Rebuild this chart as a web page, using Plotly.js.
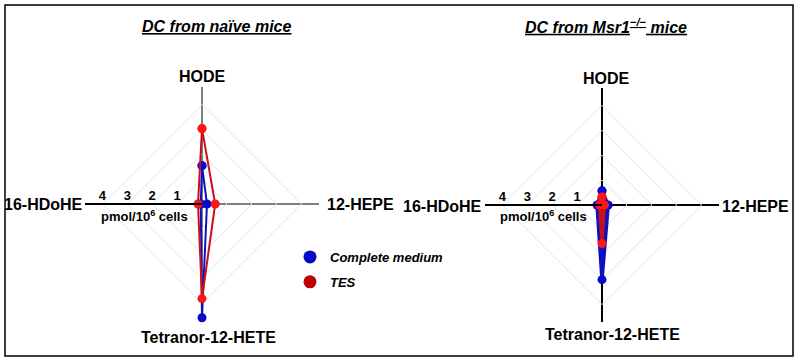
<!DOCTYPE html>
<html>
<head>
<meta charset="utf-8">
<script src="https://cdn.plot.ly/plotly-3.0.1.min.js"></script>
<style>html,body{margin:0;padding:0;background:#fff;}#chart{width:800px;height:362px;}</style>
</head>
<body>
<div id="chart"></div>
<script>
// Data
var categories = ["HODE", "12-HEPE", "Tetranor-12-HETE", "16-HDoHE"];
var naiveComplete = [1.54, 0.2, 4.57, 0.05];
var naiveTES = [3.03, 0.53, 3.8, 0.16];
var msr1Complete = [0.57, 0.25, 3.0, 0.2];
var msr1TES = [0.32, 0.1, 1.55, 0.1];
var radialTicks = [1, 2, 3, 4];
var radialTickLabels = ["1", "2", "3", "4"];
var seriesNames = ["Complete medium", "TES"];

function closeLoop(a) { return a.concat([a[0]]); }
var theta = closeLoop(categories);

var W = 800, H = 362;
function px(x) { return x / W; }
function py(y) { return 1 - y / H; }

var blueLine = "#1010c0", blueMarker = "#0a0acc";
var redLine = "#c8101a", redMarker = "#ff1515";

var traces = [
  {type: "scatterpolar", subplot: "polar", r: closeLoop(naiveComplete), theta: theta, mode: "lines+markers",
   line: {color: blueLine, width: 2}, marker: {color: blueMarker, size: 9}, showlegend: false},
  {type: "scatterpolar", subplot: "polar", r: closeLoop(naiveTES), theta: theta, mode: "lines+markers",
   line: {color: redLine, width: 2}, marker: {color: redMarker, size: 9}, showlegend: false},
  {type: "scatterpolar", subplot: "polar2", r: closeLoop(msr1Complete), theta: theta, mode: "lines+markers",
   line: {color: blueLine, width: 3.5}, marker: {color: blueMarker, size: 9}, fill: "toself", fillcolor: blueLine, showlegend: false},
  {type: "scatterpolar", subplot: "polar2", r: closeLoop(msr1TES), theta: theta, mode: "lines+markers",
   line: {color: redLine, width: 3}, marker: {color: redMarker, size: 9}, fill: "toself", fillcolor: redLine, showlegend: false},
  {type: "scatterpolar", subplot: "polar", r: [null], theta: [null], mode: "markers", name: seriesNames[0],
   legendgroup: "a", marker: {color: "#0808c8", size: 13}, showlegend: true},
  {type: "scatterpolar", subplot: "polar", r: [null], theta: [null], mode: "markers", name: seriesNames[1],
   legendgroup: "b", marker: {color: "#c00000", size: 13}, showlegend: true}
];

function polarCfg(cx, cy, R, spokeColor) {
  return {
    domain: {x: [px(cx - R), px(cx + R)], y: [py(cy + R), py(cy - R)]},
    gridshape: "linear",
    bgcolor: "rgba(0,0,0,0)",
    radialaxis: {
      range: [0, 4.7], angle: 180, side: "clockwise", tickangle: 180,
      tickvals: radialTicks, ticktext: radialTickLabels, ticks: "",
      tickfont: {family: "Liberation Sans, Arial", size: 13, color: "#000", weight: "bold"},
      showline: true, linecolor: "#000", linewidth: 2,
      gridcolor: "#e4e4e4", gridwidth: 1
    },
    angularaxis: {
      direction: "clockwise", rotation: 90, showticklabels: false, ticks: "",
      showline: false, gridcolor: spokeColor, gridwidth: 2
    }
  };
}

var labelFont = {family: "Liberation Sans, Arial", size: 16, color: "#000", weight: "bold"};
function ann(text, x, y, xanchor, font) {
  return {text: text, x: px(x), y: py(y), xref: "paper", yref: "paper", xanchor: xanchor, yanchor: "middle",
          showarrow: false, font: font || labelFont};
}
var titleFont = {family: "Liberation Sans, Arial", size: 16, color: "#000", weight: "bold", style: "italic"};
var unitFont = {family: "Liberation Sans, Arial", size: 13, color: "#000", weight: "bold"};

var layout = {
  width: W, height: H,
  margin: {l: 0, r: 0, t: 0, b: 0},
  paper_bgcolor: "#fff",
  polar: polarCfg(202, 204, 117, "#808080"),
  polar2: polarCfg(602, 205, 117, "#000"),
  showlegend: true,
  legend: {x: px(290), y: py(242), xanchor: "left", yanchor: "top", traceorder: "grouped",
           font: {family: "Liberation Sans, Arial", size: 13, color: "#000", weight: "bold", style: "italic"},
           tracegroupgap: 5, bgcolor: "rgba(0,0,0,0)"},
  annotations: [
    ann("<u>DC from naïve mice</u>", 216, 26, "center", titleFont),
    ann("<u>DC from Msr1<sup>−/−</sup> mice</u>", 606, 26, "center", titleFont),
    ann(categories[0], 202, 76, "center"),
    ann(categories[1], 325, 204, "left"),
    ann(categories[2], 208, 337, "center"),
    ann(categories[3], 85, 204, "right"),
    ann(categories[0], 606, 79, "center"),
    ann(categories[1], 720, 206, "left"),
    ann(categories[2], 612, 334, "center"),
    ann(categories[3], 484, 206, "right"),
    ann("pmol/10<sup>6</sup> cells", 144, 216, "center", unitFont),
    ann("pmol/10<sup>6</sup> cells", 543, 216, "center", unitFont)
  ],
  shapes: [
    {type: "rect", xref: "paper", yref: "paper", x0: px(5), x1: px(793), y0: py(356), y1: py(5),
     line: {color: "#000", width: 1.5}, fillcolor: "rgba(0,0,0,0)"}
  ]
};

Plotly.newPlot("chart", traces, layout, {displayModeBar: false, staticPlot: true});
</script>
</body>
</html>
